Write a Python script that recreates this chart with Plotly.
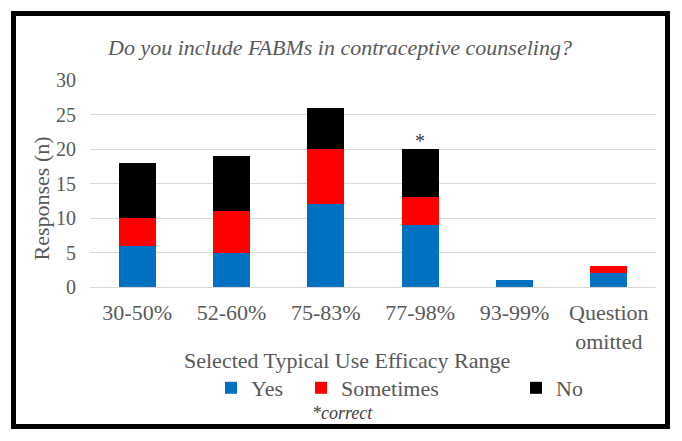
import plotly.graph_objects as go

categories = ["30-50%", "52-60%", "75-83%", "77-98%", "93-99%", "Question<br>omitted"]
yes = [6, 5, 12, 9, 1, 2]
sometimes = [4, 6, 8, 4, 0, 1]
no = [8, 8, 6, 7, 0, 0]
series_names = ["Yes", "Sometimes", "No"]
colors = ["#0070C0", "#FF0000", "#000000"]
legend_ids = ["legend", "legend2", "legend3"]

FONT = "Liberation Serif"
GRAY = "#595959"

# plot area in pixels
L, R, T, B = 90, 656, 80, 287
W, H = 682, 441


def px_x(px):
    return (px - L) / (R - L)


def px_y(py):
    return (B - py) / (B - T)


fig = go.Figure()
for name, vals, col, lg in zip(series_names, [yes, sometimes, no], colors, legend_ids):
    fig.add_trace(go.Bar(x=categories, y=vals, name=name, legend=lg,
                         marker=dict(color=col, line=dict(width=0))))

legend_text_starts = [247, 337, 552]
legend_common = dict(orientation="h", yanchor="middle", xanchor="left", y=px_y(388),
                     font=dict(family=FONT, size=22, color=GRAY), bgcolor="rgba(0,0,0,0)",
                     itemwidth=30, borderwidth=0)
legends = {}
for lg, ts in zip(legend_ids, legend_text_starts):
    legends[lg] = dict(legend_common, x=px_x(ts - 36))

fig.update_layout(
    barmode="stack",
    bargap=0.61,
    width=W, height=H,
    paper_bgcolor="white", plot_bgcolor="white",
    margin=dict(l=L, r=W - R, t=T, b=H - B),
    font=dict(family=FONT, color=GRAY, size=20),
    showlegend=True,
    xaxis=dict(showgrid=False, showline=True, linecolor="#d9d9d9", ticks="", ticklabelstandoff=6,
               tickfont=dict(family=FONT, size=22, color=GRAY)),
    yaxis=dict(range=[0, 30], dtick=5, showgrid=True, gridcolor="#d9d9d9", gridwidth=1,
               zeroline=False, ticks="", ticklabelstandoff=13,
               tickfont=dict(family=FONT, size=20, color=GRAY)),
    annotations=[
        dict(text="<i>Do you include FABMs in contraceptive counseling?</i>", xref="paper", yref="paper",
             x=px_x(339.5), y=px_y(48), showarrow=False, font=dict(family=FONT, size=22, color=GRAY),
             xanchor="center", yanchor="middle"),
        dict(text="Responses (n)", xref="paper", yref="paper", textangle=-90,
             x=px_x(41), y=px_y(198.5), showarrow=False, font=dict(family=FONT, size=22, color=GRAY),
             xanchor="center", yanchor="middle"),
        dict(text="Selected Typical Use Efficacy Range", xref="paper", yref="paper",
             x=px_x(346.5), y=px_y(360), showarrow=False, font=dict(family=FONT, size=22, color=GRAY),
             xanchor="center", yanchor="middle"),
        dict(text="<i>*correct</i>", xref="paper", yref="paper",
             x=px_x(342), y=px_y(413), showarrow=False, font=dict(family=FONT, size=18, color="#404040"),
             xanchor="center", yanchor="middle"),
        dict(text="*", x=categories[3], y=yes[3] + sometimes[3] + no[3], xref="x", yref="y",
             showarrow=False, yanchor="bottom", yshift=-5, font=dict(family=FONT, size=20, color="#404040")),
    ],
    shapes=[dict(type="rect", xref="paper", yref="paper",
                 x0=px_x(13.5), x1=px_x(667.5), y0=px_y(426.5), y1=px_y(13.5),
                 line=dict(color="black", width=5))],
    **legends,
)

fig.write_html("out.html")
